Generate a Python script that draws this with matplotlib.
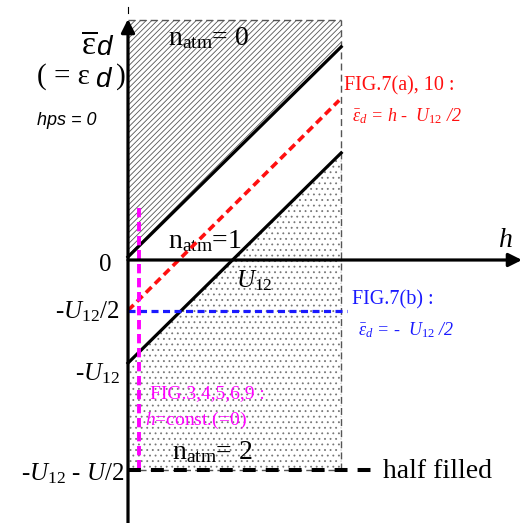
import matplotlib
matplotlib.use('Agg')
import matplotlib.pyplot as plt

plt.rcParams['font.family'] = 'Liberation Serif'
plt.rcParams['mathtext.fontset'] = 'custom'
plt.rcParams['mathtext.rm'] = 'Liberation Serif'
plt.rcParams['mathtext.it'] = 'Liberation Serif:italic'
plt.rcParams['mathtext.sf'] = 'Liberation Sans'
plt.rcParams['hatch.linewidth'] = 0.6

# energies in units of U12 (h on x, eps_d on y)
U12 = 1.0
eps_half = -2.04          # -U12 - U/2
h_max = 2.07              # right edge of the box
eps_top = 2.33            # top edge of the box

h_ends = [0.0, h_max]
upper_eps = [0.03, 2.07]      # n_atm 0 / 1 boundary
lower_eps = [-1.0, 1.04]      # n_atm 1 / 2 boundary
red_h = [0.0, 2.05]
red_eps = [-0.49, 1.55]       # FIG.7(a): eps = h - U12/2
blue_h = [0.0, 2.13]
blue_eps = [-0.5, -0.5]       # FIG.7(b)
mag_h = [0.11, 0.11]
mag_eps = [0.5, eps_half]     # FIG.3,4,5,6,9: h = const
half_h = [0.0, 2.45]

# pixel layout: origin at (128, 260), 103 px per U12
ox, oy, s = 128, 260, 103.0
W = 523


def px(x, y):
    return (x - ox) / s, (oy - y) / s


fig = plt.figure(figsize=(5.23, 5.23), dpi=100)
ax = fig.add_axes([0, 0, 1, 1])
ax.set_xlim(-ox / s, (W - ox) / s)
ax.set_ylim((oy - W) / s, oy / s)
ax.axis('off')

# shaded regions
ax.fill_between(h_ends, upper_eps, [eps_top, eps_top], facecolor='white',
                edgecolor='#555555', hatch='//////', lw=0, zorder=1)
ax.fill_between(h_ends, [eps_half, eps_half], lower_eps, facecolor='white',
                edgecolor='#777777', hatch='...', lw=0, zorder=1)

# dashed box
box = dict(color='#555555', lw=1.0, dashes=(5, 3), zorder=2)
ax.plot([h_max, h_max], [eps_half, eps_top], **box)
ax.plot(h_ends, [eps_top, eps_top], **box)
ax.plot(h_ends, [eps_half, eps_half], **box)

# phase boundaries
ax.plot(h_ends, upper_eps, color='black', lw=2.3, zorder=4)
ax.plot(h_ends, lower_eps, color='black', lw=2.3, zorder=4)

# paths used in the figures
ax.plot(red_h, red_eps, color='#ff1010', lw=2.6, dashes=(2.2, 1.3), zorder=5)
ax.plot(blue_h, blue_eps, color='#1a1aff', lw=2.3, dashes=(2.2, 1.4), zorder=5)
ax.plot(mag_h, mag_eps, color='#ff00ff', lw=2.8, dashes=(2.4, 1.2), zorder=5)
ax.plot(half_h, [eps_half, eps_half], color='black', lw=2.9, dashes=(3.2, 2.5),
        zorder=5)

# axes with arrows
ax.annotate('', xy=(0, px(0, 19)[1]), xytext=(0, px(0, 523)[1]),
            arrowprops=dict(arrowstyle='-|>', lw=2.3, color='black',
                            mutation_scale=20, shrinkA=0, shrinkB=0), zorder=6)
ax.annotate('', xy=(px(522, 0)[0], 0), xytext=(0, 0),
            arrowprops=dict(arrowstyle='-|>', lw=2.3, color='black',
                            mutation_scale=20, shrinkA=0, shrinkB=0), zorder=6)
ax.plot([0, 0], [px(0, 13)[1], px(0, 7)[1]], color='black', lw=0.8)

# axis labels
ax.text(*px(81, 54), r'$\overline{\mathrm{\varepsilon}}$', fontsize=24,
        ha='left', va='baseline')
ax.text(*px(96, 55), 'd', fontsize=20, family='Liberation Sans', style='italic',
        ha='left', va='baseline')
ax.text(*px(37, 84), '( = ε', fontsize=21, ha='left', va='baseline')
ax.text(*px(95, 87), 'd', fontsize=20, family='Liberation Sans', style='italic',
        ha='left', va='baseline')
ax.text(*px(116, 84), ')', fontsize=21, ha='left', va='baseline')
ax.text(*px(37, 125), 'hps = 0', fontsize=13, family='Liberation Sans',
        style='italic', ha='left', va='baseline')
ax.text(*px(499, 247), 'h', fontsize=20, style='italic', ha='left', va='baseline')

lab = dict(ha='right', va='center', fontsize=18)
ax.text(-0.16, 0.0 - 0.05, '0', **lab)
ax.text(-0.08, -U12 / 2, r'-$U_{\mathit{12}}$/2', **lab)
ax.text(-0.08, -U12 - 0.1, r'-$U_{\mathit{12}}$', **lab)
ax.text(-0.03, eps_half - 0.03, r'-$U_{\mathit{12}}$ - $U$/2', **lab)
ax.text(U12 + 0.05, -0.27, r'$U_{\mathit{12}}$', fontsize=18, ha='left', va='baseline')

# phase labels
ax.text(*px(168, 45), r'n$_{\mathrm{atm}}$= 0', fontsize=20, ha='left', va='baseline')
ax.text(*px(168, 248), r'n$_{\mathrm{atm}}$=1', fontsize=20, ha='left', va='baseline')
ax.text(*px(172, 459), r'n$_{\mathrm{atm}}$= 2', fontsize=20, ha='left', va='baseline')
ax.text(*px(383, 478), 'half filled', fontsize=20, ha='left', va='baseline')

# annotations of the figures
ax.text(*px(344, 90), 'FIG.7(a), 10 :', fontsize=14.5, color='#ff1010',
        ha='left', va='baseline')
ax.text(*px(352, 121), r'$\bar{\varepsilon}_d$ = $h$ -  $U_{\mathit{12}}$ /2',
        fontsize=13, color='#ff1010', style='italic', ha='left', va='baseline')
ax.text(*px(352, 304), 'FIG.7(b) :', fontsize=14.5, color='#1a1aff',
        ha='left', va='baseline')
ax.text(*px(358, 335), r'$\bar{\varepsilon}_d$ = -  $U_{\mathit{12}}$ /2',
        fontsize=13, color='#1a1aff', style='italic', ha='left', va='baseline')
ax.text(*px(150, 398), 'FIG.3,4,5,6,9 :', fontsize=14, color='#ff00ff',
        ha='left', va='baseline')
ax.text(*px(145, 425), r'$h$=const.(=0)', fontsize=14, color='#ff00ff',
        ha='left', va='baseline')

fig.savefig('out.png', dpi=100)
